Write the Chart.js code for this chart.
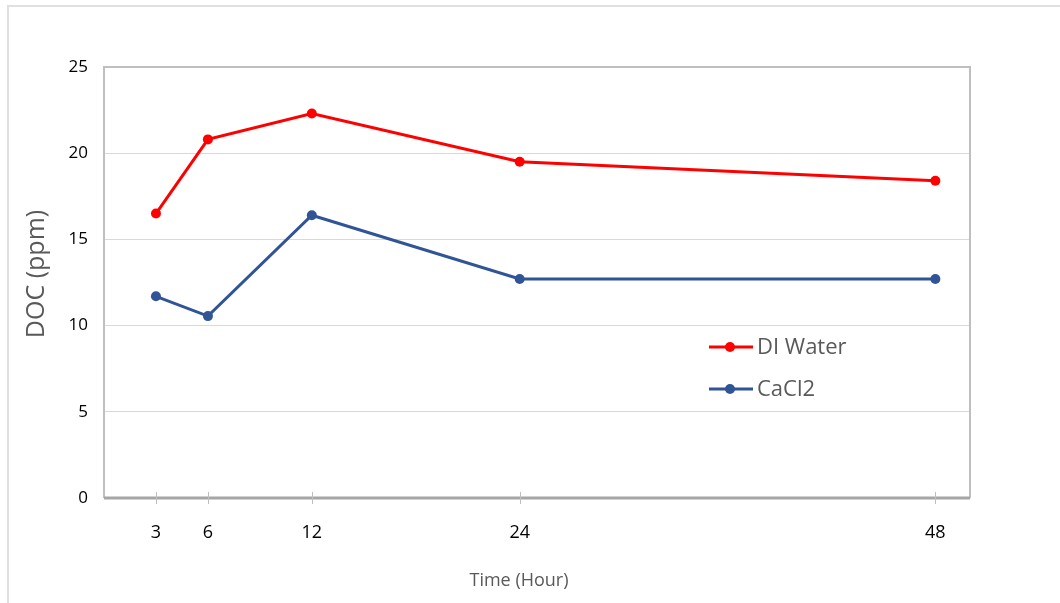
<!DOCTYPE html>
<html>
<head>
<meta charset="utf-8">
<script src="https://cdn.jsdelivr.net/npm/chart.js@4.4.1/dist/chart.umd.min.js"></script>
<style>
  html, body { margin: 0; padding: 0; background: #fff; }
  #wrap { position: relative; width: 1060px; height: 603px; }
  #frame { position: absolute; left: 7px; top: 5px; width: 1060px; height: 610px;
           border-left: 2px solid #e0e0e0; border-top: 2px solid #e0e0e0; box-sizing: border-box; }
  canvas { position: absolute; left: 0; top: 0; }
</style>
</head>
<body>
<div id="wrap">
  <div id="frame"></div>
  <canvas id="c" width="1060" height="603"></canvas>
</div>
<script>
// Sampling times (hours) and DOC readings (ppm)
const hours = [3, 6, 12, 24, 48];
const diWater = [16.5, 20.8, 22.3, 19.5, 18.4];
const cacl2 = [11.7, 10.55, 16.4, 12.7, 12.7];
const yTicks = [0, 5, 10, 15, 20, 25];

const RED = '#ff0000';
const BLUE = '#2f5597';
const FONT = "'Open Sans', 'Liberation Sans', sans-serif";

const toPoints = (xs, ys) => xs.map((x, i) => ({ x: x, y: ys[i] }));

// Plot frame, tick crosses on the time axis, in-plot legend and axis titles
const decorations = {
  id: 'decorations',
  beforeDatasetsDraw(chart) {
    const { ctx, chartArea: a, scales } = chart;
    ctx.save();
    ctx.strokeStyle = '#bfbfbf';
    ctx.lineWidth = 2;
    ctx.beginPath();
    ctx.moveTo(a.left, a.bottom);
    ctx.lineTo(a.left, a.top);
    ctx.lineTo(a.right, a.top);
    ctx.lineTo(a.right, a.bottom);
    ctx.stroke();
    ctx.strokeStyle = '#a6a6a6';
    ctx.lineWidth = 3;
    ctx.beginPath();
    ctx.moveTo(a.left, a.bottom);
    ctx.lineTo(a.right, a.bottom);
    ctx.stroke();
    ctx.strokeStyle = '#bfbfbf';
    ctx.lineWidth = 1;
    hours.forEach(h => {
      const px = Math.round(scales.x.getPixelForValue(h)) + 0.5;
      ctx.beginPath();
      ctx.moveTo(px, a.bottom - 6);
      ctx.lineTo(px, a.bottom + 6);
      ctx.stroke();
    });
    ctx.restore();
  },
  afterDraw(chart) {
    const { ctx } = chart;
    ctx.save();
    const items = [
      { label: 'DI Water', color: RED, y: 347 },
      { label: 'CaCl2', color: BLUE, y: 389 }
    ];
    items.forEach(it => {
      ctx.strokeStyle = it.color;
      ctx.lineWidth = 3;
      ctx.beginPath();
      ctx.moveTo(709, it.y);
      ctx.lineTo(753, it.y);
      ctx.stroke();
      ctx.fillStyle = it.color;
      ctx.beginPath();
      ctx.arc(730, it.y, 5, 0, Math.PI * 2);
      ctx.fill();
      ctx.fillStyle = '#595959';
      ctx.font = '22px ' + FONT;
      ctx.textBaseline = 'middle';
      ctx.textAlign = 'left';
      ctx.fillText(it.label, 757, it.y + 1);
    });
    ctx.fillStyle = '#595959';
    ctx.textAlign = 'center';
    ctx.textBaseline = 'middle';
    ctx.font = '18px ' + FONT;
    ctx.fillText('Time (Hour)', 519, 581);
    ctx.translate(37, 274);
    ctx.rotate(-Math.PI / 2);
    ctx.font = '25px ' + FONT;
    ctx.fillText('DOC (ppm)', 0, 0);
    ctx.restore();
  }
};

new Chart(document.getElementById('c'), {
  type: 'line',
  data: {
    datasets: [
      {
        label: 'DI Water',
        data: toPoints(hours, diWater),
        borderColor: RED,
        backgroundColor: RED,
        borderWidth: 3,
        pointRadius: 5,
        pointHoverRadius: 5,
        pointBorderWidth: 0,
        tension: 0
      },
      {
        label: 'CaCl2',
        data: toPoints(hours, cacl2),
        borderColor: BLUE,
        backgroundColor: BLUE,
        borderWidth: 3,
        pointRadius: 5,
        pointHoverRadius: 5,
        pointBorderWidth: 0,
        tension: 0
      }
    ]
  },
  options: {
    responsive: false,
    animation: false,
    layout: { padding: { left: 0, top: 67, right: 90, bottom: 0 } },
    plugins: {
      legend: { display: false },
      tooltip: { enabled: false }
    },
    scales: {
      x: {
        type: 'linear',
        min: 0,
        max: 50,
        afterBuildTicks(scale) { scale.ticks = hours.map(v => ({ value: v })); },
        afterFit(scale) { scale.height = 105; },
        grid: { display: false, drawTicks: false },
        border: { display: false },
        ticks: {
          padding: 24,
          color: '#000',
          font: { family: FONT, size: 18 },
          maxRotation: 0,
          autoSkip: false
        }
      },
      y: {
        min: 0,
        max: 25,
        afterBuildTicks(scale) { scale.ticks = yTicks.map(v => ({ value: v })); },
        afterFit(scale) { scale.width = 104; },
        grid: {
          drawTicks: false,
          lineWidth: 1,
          color: ctx => (ctx.tick && (ctx.tick.value === 0 || ctx.tick.value === 25)) ? 'rgba(0,0,0,0)' : '#d9d9d9'
        },
        border: { display: false },
        ticks: {
          padding: 16,
          color: '#000',
          font: { family: FONT, size: 17 }
        }
      }
    }
  },
  plugins: [decorations]
});
</script>
</body>
</html>
